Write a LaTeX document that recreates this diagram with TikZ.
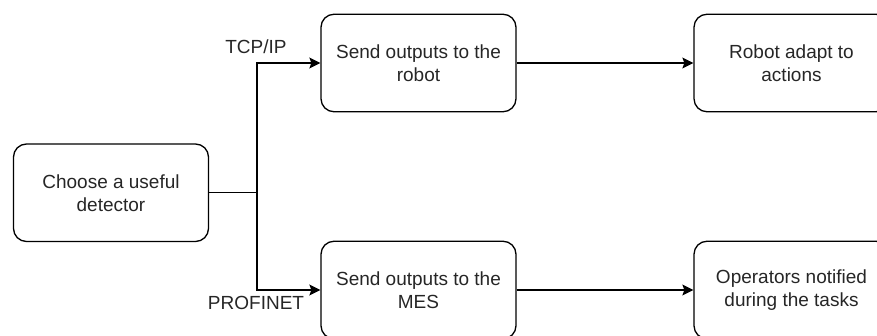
\documentclass[tikz,border=0pt]{standalone}
\usepackage{fontspec}
\setmainfont{Liberation Sans}
\usetikzlibrary{arrows.meta,calc}
\tikzset{
  stepbox/.style={draw, rounded corners=13pt, line width=1.3pt,
    minimum width=195pt, minimum height=97.5pt, align=center,
    font=\fontsize{19}{23}\selectfont, text=black!85},
  proto/.style={font=\fontsize{19}{23}\selectfont, text=black!85},
  link/.style={line width=1.3pt, -{Stealth[length=11pt,width=11pt,inset=2pt]}}
}
\begin{document}
\begin{tikzpicture}[x=1pt,y=-1pt]
      \clip (0,0) rectangle (877,336);
      \def\colA{111}
      \def\colB{418.5}
      \def\colC{791.5}

      % first column
      \node[stepbox] (detector) at (\colA,192.75) {Choose a useful\\detector};
      % second column
      \node[stepbox] (sendrobot) at (\colB,63) {Send outputs to the\\robot};
      \node[stepbox] (sendmes) at (\colB,290) {Send outputs to the\\MES};
      % third column
      \node[stepbox] (robot) at (\colC,63) {Robot adapt to\\actions};
      \node[stepbox] (operators) at (\colC,290) {Operators notified\\during the tasks};

      \coordinate (split) at (257,192.75);
      \draw[line width=1.3pt] (detector.east) -- (split);
      \draw[link] (split) |- (sendrobot.west);
      \draw[link] (split) |- (sendmes.west);
      \node[proto] (tcp) at (256,46.7) {TCP/IP};
      \node[proto] (profinet) at (256,303.3) {PROFINET};

      \draw[link] (sendrobot.east) -- (robot.west);
      \draw[link] (sendmes.east) -- (operators.west);
    \end{tikzpicture}
\end{document}
